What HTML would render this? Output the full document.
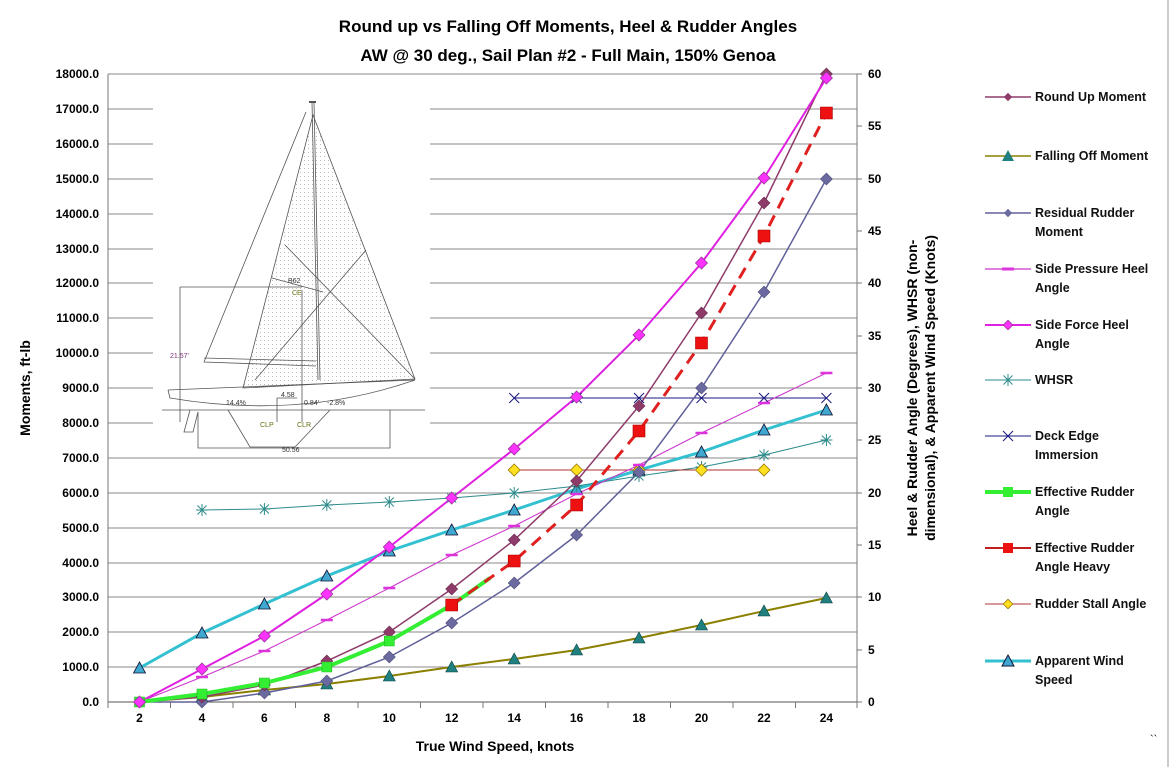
<!DOCTYPE html>
<html><head><meta charset="utf-8"><style>
html,body{margin:0;padding:0;background:#fff;}
svg{display:block;font-family:"Liberation Sans",sans-serif;}
</style></head><body>
<svg width="1175" height="767" viewBox="0 0 1175 767" xmlns="http://www.w3.org/2000/svg">
<defs>
<path id="dm" d="M0,-6 L6,0 L0,6 L-6,0Z"/>
<path id="tr" d="M0,-6 L6,5 L-6,5Z"/>
<path id="sq" d="M-6,-6 H6 V6 H-6Z"/>
<path id="sqs" d="M-5,-5 H5 V5 H-5Z"/>
<path id="ast" d="M-6,0 H6 M0,-6 V6 M-4.5,-4.5 L4.5,4.5 M-4.5,4.5 L4.5,-4.5"/>
<path id="xx" d="M-5,-5 L5,5 M-5,5 L5,-5"/>
<pattern id="dots" width="4" height="4" patternUnits="userSpaceOnUse"><rect width="1" height="1" fill="#bbb"/></pattern>
</defs>
<rect width="1175" height="767" fill="#fff"/>
<line x1="1168" y1="0" x2="1168" y2="767" stroke="#999" stroke-width="1"/>
<text x="568" y="32" font-size="17" font-weight="bold" text-anchor="middle">Round up vs Falling Off Moments, Heel &amp; Rudder Angles</text>
<text x="568" y="61" font-size="17" font-weight="bold" text-anchor="middle">AW @ 30 deg., Sail Plan #2 - Full Main, 150% Genoa</text>
<!-- gridlines -->
<g stroke="#8a8a8a" stroke-width="1">
<line x1="108" y1="74" x2="857" y2="74"/><line x1="108" y1="109" x2="857" y2="109"/><line x1="108" y1="144" x2="857" y2="144"/><line x1="108" y1="179" x2="857" y2="179"/><line x1="108" y1="214" x2="857" y2="214"/><line x1="108" y1="249" x2="857" y2="249"/><line x1="108" y1="283" x2="857" y2="283"/><line x1="108" y1="318" x2="857" y2="318"/><line x1="108" y1="353" x2="857" y2="353"/><line x1="108" y1="388" x2="857" y2="388"/><line x1="108" y1="423" x2="857" y2="423"/><line x1="108" y1="458" x2="857" y2="458"/><line x1="108" y1="493" x2="857" y2="493"/><line x1="108" y1="528" x2="857" y2="528"/><line x1="108" y1="563" x2="857" y2="563"/><line x1="108" y1="597" x2="857" y2="597"/><line x1="108" y1="632" x2="857" y2="632"/><line x1="108" y1="667" x2="857" y2="667"/>
</g>
<g stroke="#777" stroke-width="1">
<line x1="108" y1="74" x2="108" y2="702"/><line x1="857" y1="74" x2="857" y2="702"/>
<line x1="108" y1="702" x2="857" y2="702" stroke="#555"/>
<path d="M108,702v6M170.5,702v6M233,702v6M295.5,702v6M358,702v6M420.5,702v6M483,702v6M545.5,702v6M608,702v6M670.5,702v6M733,702v6M795.5,702v6M857,702v6"/>
<path d="M857,74h5M857,126h5M857,179h5M857,231h5M857,283h5M857,336h5M857,388h5M857,440h5M857,493h5M857,545h5M857,597h5M857,650h5M857,702h5"/>
</g>
<!-- left labels -->
<g font-size="12" font-weight="bold" text-anchor="end">
<text x="99" y="78">18000.0</text><text x="99" y="113">17000.0</text><text x="99" y="148">16000.0</text><text x="99" y="183">15000.0</text><text x="99" y="218">14000.0</text><text x="99" y="253">13000.0</text><text x="99" y="287">12000.0</text><text x="99" y="322">11000.0</text><text x="99" y="357">10000.0</text><text x="99" y="392">9000.0</text><text x="99" y="427">8000.0</text><text x="99" y="462">7000.0</text><text x="99" y="497">6000.0</text><text x="99" y="532">5000.0</text><text x="99" y="567">4000.0</text><text x="99" y="601">3000.0</text><text x="99" y="636">2000.0</text><text x="99" y="671">1000.0</text><text x="99" y="706">0.0</text>
</g>
<g font-size="12" font-weight="bold">
<text x="868" y="78">60</text><text x="868" y="130">55</text><text x="868" y="183">50</text><text x="868" y="235">45</text><text x="868" y="287">40</text><text x="868" y="340">35</text><text x="868" y="392">30</text><text x="868" y="444">25</text><text x="868" y="497">20</text><text x="868" y="549">15</text><text x="868" y="601">10</text><text x="868" y="654">5</text><text x="868" y="706">0</text>
</g>
<g font-size="12" font-weight="bold" text-anchor="middle">
<text x="139.5" y="722">2</text><text x="202" y="722">4</text><text x="264.4" y="722">6</text><text x="326.8" y="722">8</text><text x="389.3" y="722">10</text><text x="451.7" y="722">12</text><text x="514.2" y="722">14</text><text x="576.6" y="722">16</text><text x="639" y="722">18</text><text x="701.5" y="722">20</text><text x="764" y="722">22</text><text x="826.4" y="722">24</text>
</g>
<text x="495" y="751" font-size="14" font-weight="bold" text-anchor="middle">True Wind Speed, knots</text>
<text transform="translate(30,388) rotate(-90)" font-size="14" font-weight="bold" text-anchor="middle">Moments, ft-lb</text>
<text transform="translate(917,388) rotate(-90)" font-size="14" font-weight="bold" text-anchor="middle">Heel &amp; Rudder Angle (Degrees), WHSR (non-</text>
<text transform="translate(935,388) rotate(-90)" font-size="14" font-weight="bold" text-anchor="middle">dimensional), &amp; Apparent Wind Speed (Knots)</text>
<text x="1150" y="743" font-size="11">``</text>

<!-- sailboat -->
<rect x="153" y="88" width="277" height="367" fill="#fff"/>
<g stroke="#555" stroke-width="0.8" fill="none">
<path d="M313,115 L243,388 L415,379 Z" fill="url(#dots)"/>
<line x1="309" y1="102" x2="316" y2="102" stroke-width="2"/>
<line x1="312" y1="102" x2="318" y2="380"/><line x1="314" y1="102" x2="320" y2="380"/>
<path d="M306,112 L204,362 L316,366"/>
<line x1="204" y1="358" x2="316" y2="361"/>
<path d="M168,390 L170,398 Q300,420 415,380 L168,390"/>
<line x1="162" y1="410" x2="425" y2="410"/>
<path d="M228,410 L250,447 L295,447 L330,410"/>
<path d="M190,410 L184,432 L193,432 L198,412"/>
<path d="M180,287 V422 M180,287 H302"/>
<path d="M198,412 V448 H390 V410"/>
<path d="M285,245 L415,379 M255,380 L366,250 M272,278 L323,292"/>
<path d="M302,290 V422 M277,398 V422 M297,398 H277"/>
</g>
<g font-size="7" fill="#333">
<text x="170" y="358" fill="#803080">21.57'</text>
<text x="288" y="283">B62</text><text x="292" y="295" fill="#687010">CE</text>
<text x="226" y="405">14.4%</text><text x="281" y="397">4.58</text><text x="304" y="405">0.84'</text><text x="327" y="405">-2.8%</text>
<text x="260" y="427" fill="#687010">CLP</text><text x="297" y="427" fill="#687010">CLR</text><text x="282" y="452">50.56</text>
</g>

<!-- series -->
<!-- apparent wind -->
<polyline fill="none" stroke="#33C0D0" stroke-width="3" points="139.5,668 202,633 264.4,604 326.8,576 389.3,551 451.7,530 514.2,510 576.6,489 639,470 701.5,452 764,430 826.4,410"/>
<!-- WHSR -->
<polyline fill="none" stroke="#2E8B8B" stroke-width="1" points="202,510 264.4,509 326.8,505 389.3,502 451.7,498 514.2,493 576.6,486 639,476 701.5,467 764,455 826.4,440"/>
<!-- deck edge -->
<line x1="514.2" y1="398" x2="826.4" y2="398" stroke="#1a1a80" stroke-width="1"/>
<!-- stall -->
<line x1="514.2" y1="470" x2="764" y2="470" stroke="#B03030" stroke-width="1"/>
<!-- side pressure -->
<polyline fill="none" stroke="#CC33CC" stroke-width="1" points="139.5,702 202,677 264.4,651 326.8,620 389.3,588 451.7,555 514.2,526 576.6,494 639,465 701.5,433 764,403 826.4,373"/>
<!-- falling off -->
<polyline fill="none" stroke="#8B8000" stroke-width="2" points="139.5,702 202,697 264.4,690 326.8,684 389.3,676 451.7,667 514.2,659 576.6,650 639,638 701.5,625 764,611 826.4,598"/>
<!-- residual -->
<polyline fill="none" stroke="#60609A" stroke-width="1.5" points="139.5,702 202,702 264.4,693 326.8,681 389.3,657 451.7,623 514.2,583 576.6,535 639,472 701.5,388 764,292 826.4,179"/>
<!-- round up -->
<polyline fill="none" stroke="#8E3B6A" stroke-width="1.5" points="139.5,702 202,697 264.4,685 326.8,661 389.3,632 451.7,589 514.2,540 576.6,481 639,406 701.5,313 764,203 826.4,74"/>
<!-- side force -->
<polyline fill="none" stroke="#E020E0" stroke-width="2" points="139.5,702 202,669 264.4,636 326.8,594 389.3,547 451.7,498 514.2,449 576.6,397 639,335 701.5,263 764,178 826.4,78"/>
<!-- green -->
<polyline fill="none" stroke="#33EE33" stroke-width="4" points="139.5,702 202,694 264.4,683 326.8,667 389.3,641 451.7,605 490,578"/>
<!-- red dashed -->
<polyline fill="none" stroke="#E02020" stroke-width="3" stroke-dasharray="12 8" points="451.7,605 514.2,561 576.6,505 639,431 701.5,343 764,236 826.4,113"/>

<!-- markers -->
<g fill="#40A8D0" stroke="#113" stroke-width="0.8">
<use href="#tr" x="139.5" y="668"/><use href="#tr" x="202" y="633"/><use href="#tr" x="264.4" y="604"/><use href="#tr" x="326.8" y="576"/><use href="#tr" x="389.3" y="551"/><use href="#tr" x="451.7" y="530"/><use href="#tr" x="514.2" y="510"/><use href="#tr" x="576.6" y="489"/><use href="#tr" x="639" y="470"/><use href="#tr" x="701.5" y="452"/><use href="#tr" x="764" y="430"/><use href="#tr" x="826.4" y="410"/>
</g>
<g stroke="#2E8B8B" stroke-width="1" fill="none">
<use href="#ast" x="202" y="510"/><use href="#ast" x="264.4" y="509"/><use href="#ast" x="326.8" y="505"/><use href="#ast" x="389.3" y="502"/><use href="#ast" x="451.7" y="498"/><use href="#ast" x="514.2" y="493"/><use href="#ast" x="576.6" y="486"/><use href="#ast" x="639" y="476"/><use href="#ast" x="701.5" y="467"/><use href="#ast" x="764" y="455"/><use href="#ast" x="826.4" y="440"/>
</g>
<g stroke="#1a1a80" stroke-width="1" fill="none">
<use href="#xx" x="514.2" y="398"/><use href="#xx" x="576.6" y="398"/><use href="#xx" x="639" y="398"/><use href="#xx" x="701.5" y="398"/><use href="#xx" x="764" y="398"/><use href="#xx" x="826.4" y="398"/>
</g>
<g fill="#FFE020" stroke="#997700" stroke-width="0.8">
<use href="#dm" x="514.2" y="470"/><use href="#dm" x="576.6" y="470"/><use href="#dm" x="639" y="470"/><use href="#dm" x="701.5" y="470"/><use href="#dm" x="764" y="470"/>
</g>
<g stroke="#DD33DD" stroke-width="2.5">
<path d="M196,677h12M258.4,651h12M320.8,620h12M383.3,588h12M445.7,555h12M508.2,526h12M570.6,494h12M633,465h12M695.5,433h12M758,403h12M820.4,373h12"/>
</g>
<g fill="#208080" stroke="#0a4040" stroke-width="0.6">
<use href="#tr" x="202" y="697"/><use href="#tr" x="264.4" y="690"/><use href="#tr" x="326.8" y="684"/><use href="#tr" x="389.3" y="676"/><use href="#tr" x="451.7" y="667"/><use href="#tr" x="514.2" y="659"/><use href="#tr" x="576.6" y="650"/><use href="#tr" x="639" y="638"/><use href="#tr" x="701.5" y="625"/><use href="#tr" x="764" y="611"/><use href="#tr" x="826.4" y="598"/>
</g>
<g fill="#6A6AA0" stroke="#50507a" stroke-width="0.6">
<use href="#dm" x="202" y="702"/><use href="#dm" x="264.4" y="693"/><use href="#dm" x="326.8" y="681"/><use href="#dm" x="389.3" y="657"/><use href="#dm" x="451.7" y="623"/><use href="#dm" x="514.2" y="583"/><use href="#dm" x="576.6" y="535"/><use href="#dm" x="639" y="472"/><use href="#dm" x="701.5" y="388"/><use href="#dm" x="764" y="292"/><use href="#dm" x="826.4" y="179"/>
</g>
<g fill="#8E3B6A" stroke="#6a2a50" stroke-width="0.6">
<use href="#dm" x="202" y="697"/><use href="#dm" x="264.4" y="685"/><use href="#dm" x="326.8" y="661"/><use href="#dm" x="389.3" y="632"/><use href="#dm" x="451.7" y="589"/><use href="#dm" x="514.2" y="540"/><use href="#dm" x="576.6" y="481"/><use href="#dm" x="639" y="406"/><use href="#dm" x="701.5" y="313"/><use href="#dm" x="764" y="203"/><use href="#dm" x="826.4" y="74"/>
</g>
<g fill="#33EE33" stroke="#22bb22" stroke-width="0.6">
<use href="#sqs" x="139.5" y="702"/><use href="#sqs" x="202" y="694"/><use href="#sqs" x="264.4" y="683"/><use href="#sqs" x="326.8" y="667"/><use href="#sqs" x="389.3" y="641"/>
</g>
<g fill="#EE1111" stroke="#aa0000" stroke-width="0.6">
<use href="#sq" x="451.7" y="605"/><use href="#sq" x="514.2" y="561"/><use href="#sq" x="576.6" y="505"/><use href="#sq" x="639" y="431"/><use href="#sq" x="701.5" y="343"/><use href="#sq" x="764" y="236"/><use href="#sq" x="826.4" y="113"/>
</g>
<g fill="#FF33FF" stroke="#993399" stroke-width="0.8">
<use href="#dm" x="139.5" y="702"/><use href="#dm" x="202" y="669"/><use href="#dm" x="264.4" y="636"/><use href="#dm" x="326.8" y="594"/><use href="#dm" x="389.3" y="547"/><use href="#dm" x="451.7" y="498"/><use href="#dm" x="514.2" y="449"/><use href="#dm" x="576.6" y="397"/><use href="#dm" x="639" y="335"/><use href="#dm" x="701.5" y="263"/><use href="#dm" x="764" y="178"/><use href="#dm" x="826.4" y="78"/>
</g>

<!-- legend -->
<g font-size="12.5" font-weight="bold" fill="#111">
<line x1="985" y1="97" x2="1031" y2="97" stroke="#8E3B6A" stroke-width="1.5"/><use href="#dm" x="1008" y="97" fill="#8E3B6A" transform="translate(1008,97) scale(0.7) translate(-1008,-97)"/>
<text x="1035" y="101">Round Up Moment</text>
<line x1="985" y1="156" x2="1031" y2="156" stroke="#8B8000" stroke-width="1.5"/><use href="#tr" x="1008" y="156" fill="#208080"/>
<text x="1035" y="160">Falling Off Moment</text>
<line x1="985" y1="213" x2="1031" y2="213" stroke="#60609A" stroke-width="1.5"/><use href="#dm" x="1008" y="213" fill="#6A6AA0" transform="translate(1008,213) scale(0.7) translate(-1008,-213)"/>
<text x="1035" y="217">Residual Rudder</text><text x="1035" y="236">Moment</text>
<line x1="985" y1="269" x2="1031" y2="269" stroke="#CC33CC" stroke-width="1.2"/><line x1="1002" y1="269" x2="1014" y2="269" stroke="#DD33DD" stroke-width="3"/>
<text x="1035" y="273">Side Pressure Heel</text><text x="1035" y="292">Angle</text>
<line x1="985" y1="325" x2="1031" y2="325" stroke="#E020E0" stroke-width="2"/><use href="#dm" x="1008" y="325" fill="#FF33FF" stroke="#993399" transform="translate(1008,325) scale(0.8) translate(-1008,-325)"/>
<text x="1035" y="329">Side Force Heel</text><text x="1035" y="348">Angle</text>
<line x1="985" y1="380" x2="1031" y2="380" stroke="#2E8B8B" stroke-width="1"/><use href="#ast" x="1008" y="380" stroke="#2E8B8B" fill="none"/>
<text x="1035" y="384">WHSR</text>
<line x1="985" y1="436" x2="1031" y2="436" stroke="#1a1a80" stroke-width="1"/><use href="#xx" x="1008" y="436" stroke="#1a1a80"/>
<text x="1035" y="440">Deck Edge</text><text x="1035" y="459">Immersion</text>
<line x1="985" y1="492" x2="1031" y2="492" stroke="#33EE33" stroke-width="4"/><use href="#sqs" x="1008" y="492" fill="#33EE33"/>
<text x="1035" y="496">Effective Rudder</text><text x="1035" y="515">Angle</text>
<line x1="985" y1="548" x2="1031" y2="548" stroke="#C02020" stroke-width="2"/><use href="#sqs" x="1008" y="548" fill="#EE1111"/>
<text x="1035" y="552">Effective Rudder</text><text x="1035" y="571">Angle Heavy</text>
<line x1="985" y1="604" x2="1031" y2="604" stroke="#B03030" stroke-width="1"/><use href="#dm" x="1008" y="604" fill="#FFE020" stroke="#997700" transform="translate(1008,604) scale(0.8) translate(-1008,-604)"/>
<text x="1035" y="608">Rudder Stall Angle</text>
<line x1="985" y1="661" x2="1031" y2="661" stroke="#33C0D0" stroke-width="3"/><use href="#tr" x="1008" y="661" fill="#40A8D0" stroke="#113"/>
<text x="1035" y="665">Apparent Wind</text><text x="1035" y="684">Speed</text>
</g>
</svg>
</body></html>
